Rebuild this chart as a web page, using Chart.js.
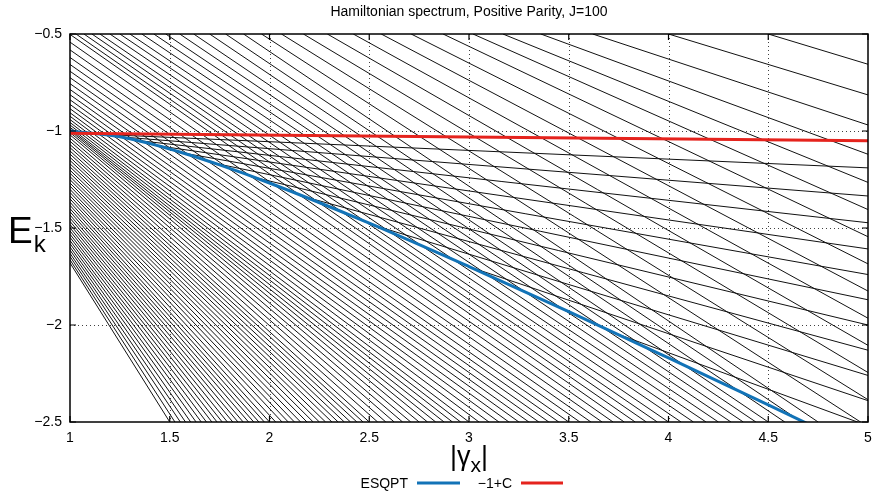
<!DOCTYPE html>
<html>
<head>
<meta charset="utf-8">
<script src="https://cdn.jsdelivr.net/npm/chart.js@4.4.0/dist/chart.umd.min.js"></script>
<style>
  html, body { margin: 0; padding: 0; background: #fff; }
</style>
</head>
<body>
<canvas id="chart" width="876" height="492"></canvas>
<script>
// axis range
const E_TOP = -0.5;
const E_BOTTOM = -2.5;
const G_MIN = 1;
const G_MAX = 5;

// main family of levels (ground state upwards)
// levels 0..62 leave the left edge (|gamma_x| = 1) at these energies
const edgeStartE = [
  -1.68, -1.664, -1.647, -1.631, -1.614, -1.598, -1.581, -1.565, -1.548, -1.532,
  -1.515, -1.499, -1.482, -1.466, -1.449, -1.433, -1.416, -1.4, -1.383, -1.367,
  -1.35, -1.334, -1.317, -1.301, -1.284, -1.268, -1.251, -1.235, -1.218, -1.202,
  -1.185, -1.169, -1.152, -1.136, -1.119, -1.103, -1.086, -1.07, -1.053, -1.037,
  -1.02, -1.008, -0.998, -0.99, -0.981, -0.969, -0.956, -0.941, -0.924, -0.906,
  -0.885, -0.863, -0.839, -0.813, -0.786, -0.756, -0.725, -0.692, -0.657, -0.621,
  -0.582, -0.542, -0.502
];
// levels 63..91 come in through the top edge at these |gamma_x|
const topCrossGamma = [
  1.03, 1.07, 1.11, 1.15, 1.2, 1.25, 1.3, 1.36, 1.42, 1.48,
  1.55, 1.62, 1.7, 1.78, 1.87, 1.96, 2.06, 2.17, 2.29, 2.42,
  2.56, 2.71, 2.87, 3.02, 3.17, 3.36, 3.62, 4.0, 4.5
];
// levels 0..77 leave through the bottom edge at these |gamma_x|
const bottomCrossGamma = [
  1.5, 1.526, 1.553, 1.579, 1.605, 1.632, 1.658, 1.684, 1.711, 1.737,
  1.763, 1.789, 1.816, 1.842, 1.868, 1.895, 1.921, 1.947, 1.974, 2.0,
  2.031, 2.063, 2.094, 2.125, 2.156, 2.188, 2.219, 2.25, 2.281, 2.313,
  2.344, 2.375, 2.406, 2.438, 2.469, 2.5, 2.542, 2.583, 2.625, 2.667,
  2.708, 2.75, 2.792, 2.833, 2.875, 2.917, 2.958, 3.0, 3.05, 3.1,
  3.15, 3.2, 3.25, 3.3, 3.35, 3.4, 3.45, 3.5, 3.556, 3.611,
  3.667, 3.722, 3.778, 3.833, 3.889, 3.944, 4.0, 4.063, 4.125, 4.188,
  4.25, 4.313, 4.375, 4.438, 4.5, 4.583, 4.667, 4.75
];
// levels 78..91 reach the right edge (|gamma_x| = 5) at these energies
const rightEdgeE = [
  -2.525, -2.385, -2.245, -2.105, -1.965, -1.825, -1.685,
  -1.545, -1.405, -1.265, -1.12, -0.969, -0.814, -0.656
];

// flat family between the two critical lines: starts on the ESQPT curve
const flatStartGamma = [1.17, 1.26, 1.33, 1.44, 1.57, 1.72, 1.9, 2.15, 2.52, 3.01, 3.73];
const flatStartE = [-1.018, -1.031, -1.048, -1.076, -1.114, -1.165, -1.233, -1.332, -1.485, -1.703, -2.041];
const flatEndE = [-1.19, -1.335, -1.473, -1.608, -1.74, -1.87, -2.0, -2.13, -2.26, -2.39, -2.52];

// ESQPT curve
const esqptGamma = [1, 1.25, 1.5, 1.75, 2, 2.5, 3, 3.5, 4, 4.5, 5];
const esqptE = [-1.0, -1.03, -1.093, -1.175, -1.268, -1.475, -1.699, -1.931, -2.17, -2.412, -2.658];

// -1+C line
const constGamma = [1, 5];
const constE = [-1.012, -1.05];

const BLUE = "#1273b7";
const RED = "#e5231d";
const FONT = "'Liberation Sans', Arial, Helvetica, sans-serif";

const datasets = [];
datasets.push({
  data: constGamma.map((g, i) => ({ x: g, y: constE[i] })),
  borderColor: RED,
  borderWidth: 3,
});
datasets.push({
  data: esqptGamma.map((g, i) => ({ x: g, y: esqptE[i] })),
  borderColor: BLUE,
  borderWidth: 3,
  cubicInterpolationMode: "monotone",
});

flatStartGamma.forEach((g, j) => {
  datasets.push({
    data: [{ x: g, y: flatStartE[j] }, { x: G_MAX, y: flatEndE[j] }],
    borderColor: "#111",
    borderWidth: 1,
  });
});

const nEdge = edgeStartE.length;
const nBottom = bottomCrossGamma.length;
for (let k = 0; k < nBottom + rightEdgeE.length; k++) {
  const start = k < nEdge
    ? { x: G_MIN, y: edgeStartE[k] }
    : { x: topCrossGamma[k - nEdge], y: E_TOP };
  const end = k < nBottom
    ? { x: bottomCrossGamma[k], y: E_BOTTOM }
    : { x: G_MAX, y: rightEdgeE[k - nBottom] };
  datasets.push({
    data: [start, end],
    borderColor: "#111",
    borderWidth: 1,
  });
}

datasets.forEach((d) => {
  d.showLine = true;
  d.pointRadius = 0;
  d.pointHoverRadius = 0;
});

// frame, dotted grid, inward ticks, axis titles and legend (gnuplot look)
const decor = {
  id: "decor",
  beforeDatasetsDraw(chart) {
    const { ctx, chartArea: a, scales } = chart;
    ctx.save();
    ctx.strokeStyle = "rgba(0,0,0,0.75)";
    ctx.lineWidth = 1;
    ctx.setLineDash([1, 3]);
    scales.x.ticks.forEach((t) => {
      if (t.value <= G_MIN || t.value >= G_MAX) return;
      const x = Math.round(scales.x.getPixelForValue(t.value)) + 0.5;
      ctx.beginPath(); ctx.moveTo(x, a.top); ctx.lineTo(x, a.bottom); ctx.stroke();
    });
    scales.y.ticks.forEach((t) => {
      if (t.value <= E_BOTTOM || t.value >= E_TOP) return;
      const y = Math.round(scales.y.getPixelForValue(t.value)) + 0.5;
      ctx.beginPath(); ctx.moveTo(a.left, y); ctx.lineTo(a.right, y); ctx.stroke();
    });
    ctx.restore();
  },
  afterDatasetsDraw(chart) {
    const { ctx, chartArea: a, scales } = chart;
    ctx.save();
    ctx.strokeStyle = "#000";
    ctx.lineWidth = 1.5;
    ctx.strokeRect(a.left, a.top, a.right - a.left, a.bottom - a.top);
    ctx.lineWidth = 1.2;
    scales.x.ticks.forEach((t) => {
      const x = scales.x.getPixelForValue(t.value);
      ctx.beginPath();
      ctx.moveTo(x, a.bottom); ctx.lineTo(x, a.bottom - 6);
      ctx.moveTo(x, a.top); ctx.lineTo(x, a.top + 6);
      ctx.stroke();
    });
    scales.y.ticks.forEach((t) => {
      const y = scales.y.getPixelForValue(t.value);
      ctx.beginPath();
      ctx.moveTo(a.left, y); ctx.lineTo(a.left + 6, y);
      ctx.moveTo(a.right, y); ctx.lineTo(a.right - 6, y);
      ctx.stroke();
    });

    ctx.fillStyle = "#000";
    ctx.textBaseline = "alphabetic";

    // title
    ctx.font = "14px " + FONT;
    ctx.textAlign = "center";
    ctx.fillText("Hamiltonian spectrum, Positive Parity, J=100", (a.left + a.right) / 2, 16);

    // y axis title E_k
    ctx.textAlign = "left";
    ctx.font = "37px " + FONT;
    ctx.fillText("E", 8, 243);
    const ew = ctx.measureText("E").width;
    ctx.font = "24px " + FONT;
    ctx.fillText("k", 8 + ew + 1, 252);

    // x axis title |gamma_x|
    let x = 450;
    ctx.font = "27px " + FONT;
    ctx.fillText("|\u03b3", x, 465);
    x += ctx.measureText("|\u03b3").width;
    ctx.font = "21px " + FONT;
    ctx.fillText("x", x, 472);
    x += ctx.measureText("x").width;
    ctx.font = "27px " + FONT;
    ctx.fillText("|", x, 465);

    // legend
    ctx.font = "14px " + FONT;
    ctx.textAlign = "right";
    ctx.fillText("ESQPT", 408, 488);
    ctx.fillText("\u22121+C", 512, 488);
    ctx.lineWidth = 3;
    ctx.strokeStyle = BLUE;
    ctx.beginPath(); ctx.moveTo(417, 483); ctx.lineTo(460, 483); ctx.stroke();
    ctx.strokeStyle = RED;
    ctx.beginPath(); ctx.moveTo(521, 483); ctx.lineTo(563, 483); ctx.stroke();
    ctx.restore();
  },
};

new Chart(document.getElementById("chart"), {
  type: "scatter",
  data: { datasets },
  options: {
    responsive: false,
    animation: false,
    devicePixelRatio: 1,
    events: [],
    layout: { padding: { top: 34, right: 8, left: 0, bottom: 0 } },
    plugins: { legend: { display: false }, tooltip: { enabled: false } },
    scales: {
      x: {
        type: "linear",
        min: G_MIN,
        max: G_MAX,
        afterFit: (s) => { s.height = 70; s.paddingLeft = 0; s.paddingRight = 0; },
        grid: { display: false, drawTicks: false },
        border: { display: false },
        ticks: {
          stepSize: 0.5,
          color: "#000",
          padding: 8,
          maxRotation: 0,
          font: { family: FONT, size: 14 },
          callback: (v) => String(v),
        },
      },
      y: {
        type: "linear",
        min: E_BOTTOM,
        max: E_TOP,
        afterFit: (s) => { s.width = 70; s.paddingTop = 0; s.paddingBottom = 0; },
        grid: { display: false, drawTicks: false },
        border: { display: false },
        ticks: {
          stepSize: 0.5,
          color: "#000",
          padding: 8,
          font: { family: FONT, size: 14 },
          callback: (v) => String(v).replace("-", "\u2212"),
        },
      },
    },
  },
  plugins: [decor],
});
</script>
</body>
</html>
